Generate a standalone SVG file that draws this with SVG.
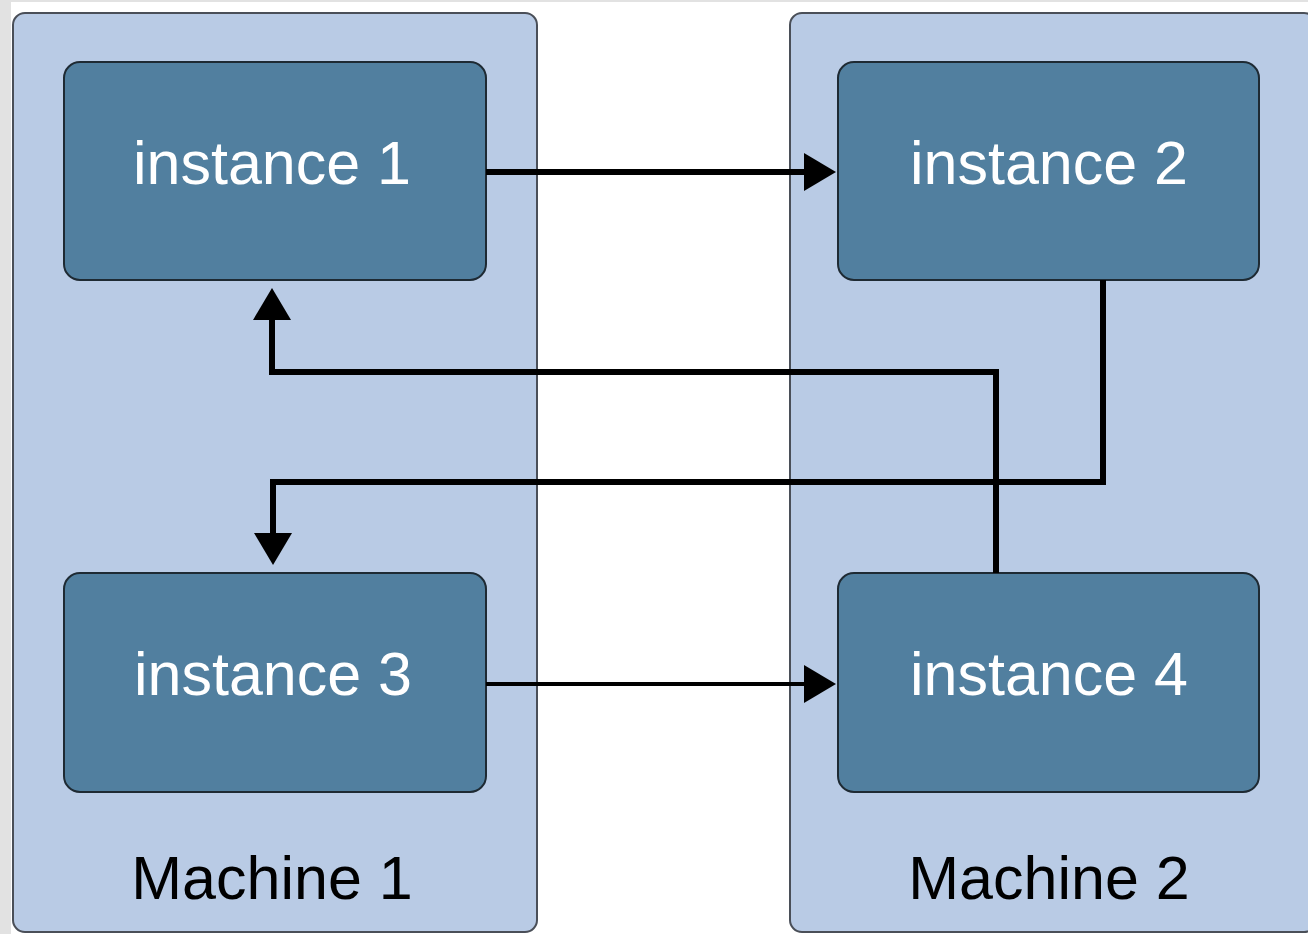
<svg xmlns="http://www.w3.org/2000/svg" width="1308" height="934" viewBox="0 0 1308 934">
<style>
.machine{fill:#b9cbe5;stroke:#4a4f58;stroke-width:2}
.inst{fill:#517f9f;stroke:#1e2a33;stroke-width:2}
.itext{font-family:"Liberation Sans",Arial,sans-serif;font-size:61px;fill:#ffffff;text-anchor:middle}
.mtext{font-family:"Liberation Sans",Arial,sans-serif;font-size:61px;fill:#000000;text-anchor:middle}
.conn{fill:none;stroke:#000;stroke-width:6}
.thin{fill:none;stroke:#000;stroke-width:4}
</style>
<defs>
<marker id="ah" markerUnits="userSpaceOnUse" viewBox="0 0 32 38" refX="1" refY="19" markerWidth="32" markerHeight="38" orient="auto">
<path d="M0,0 L32,19 L0,38 Z" fill="#000"/>
</marker>
</defs>
<rect x="0" y="0" width="1308" height="934" fill="#ffffff"/>
<rect x="0" y="0" width="11" height="934" fill="#e2e2e2"/>
<rect x="0" y="0" width="1308" height="2" fill="#e2e2e2"/>
<g id="machine1">
<rect class="machine" x="13" y="13" width="524" height="919" rx="12"/>
<text class="mtext" x="272" y="899">Machine 1</text>
</g>
<g id="machine2">
<rect class="machine" x="790" y="13" width="526" height="919" rx="12"/>
<text class="mtext" x="1049" y="899">Machine 2</text>
</g>
<g id="instance1">
<rect class="inst" x="64" y="62" width="422" height="218" rx="16"/>
<text class="itext" x="272" y="184">instance 1</text>
</g>
<g id="instance2">
<rect class="inst" x="838" y="62" width="421" height="218" rx="16"/>
<text class="itext" x="1049" y="184">instance 2</text>
</g>
<g id="instance3">
<rect class="inst" x="64" y="573" width="422" height="219" rx="16"/>
<text class="itext" x="273" y="695">instance 3</text>
</g>
<g id="instance4">
<rect class="inst" x="838" y="573" width="421" height="219" rx="16"/>
<text class="itext" x="1049" y="695">instance 4</text>
</g>
<g id="connectors">
<path class="conn" d="M486,172 L805,172" marker-end="url(#ah)"/>
<path class="thin" d="M486,684 L805,684" marker-end="url(#ah)"/>
<path class="conn" d="M996,573 L996,372 L272,372 L272,319" marker-end="url(#ah)"/>
<path class="conn" d="M1103,280 L1103,482 L273,482 L273,534" marker-end="url(#ah)"/>
</g>
</svg>
